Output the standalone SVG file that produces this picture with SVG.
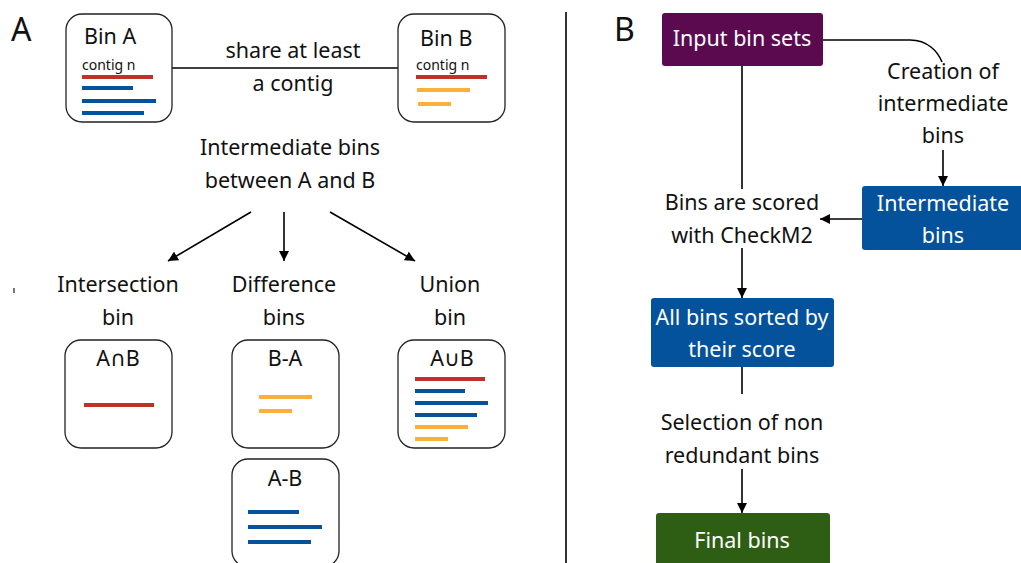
<svg xmlns="http://www.w3.org/2000/svg" width="1021" height="563" viewBox="0 0 1021 563">
<defs>
<marker id="ah" viewBox="0 0 10 10" refX="10" refY="5" markerWidth="10" markerHeight="10" markerUnits="userSpaceOnUse" orient="auto">
<path d="M0,0 L10,5 L0,10 z" fill="#000"/>
</marker>
<style>
text{font-family:"Noto Sans","Open Sans","DejaVu Sans",sans-serif;fill:#111;}
.t{font-size:21.5px;text-anchor:middle;}
.w{fill:#fff;}
.small{font-size:14px;}
.bin{fill:#fff;stroke:#222;stroke-width:1.3;}
.r{stroke:#c1312a;stroke-width:4;}
.b{stroke:#03529b;stroke-width:4;}
.o{stroke:#fbb03b;stroke-width:4;}
.c{fill:none;stroke:#000;stroke-width:1.6;}
</style>
</defs>
<rect width="1021" height="563" fill="#fff"/>
<text x="11" y="41" style="font-size:32px">A</text>
<text x="614" y="41" style="font-size:32px">B</text>
<rect x="13" y="288" width="2" height="5" fill="#777"/>
<line x1="566" y1="12" x2="566" y2="563" stroke="#000" stroke-width="1.6"/>

<g id="connectors">
<line class="c" x1="172" y1="68" x2="398" y2="68"/>
<line class="c" x1="251" y1="212" x2="168" y2="261" marker-end="url(#ah)"/>
<line class="c" x1="284" y1="212" x2="284" y2="261" marker-end="url(#ah)"/>
<line class="c" x1="330" y1="212" x2="415" y2="261" marker-end="url(#ah)"/>
<path class="c" d="M823,40 H910 C928,40 938,52 942,62"/>
<line class="c" x1="943" y1="150" x2="943" y2="186" marker-end="url(#ah)"/>
<line class="c" x1="862" y1="219" x2="820" y2="219" marker-end="url(#ah)"/>
<line class="c" x1="742" y1="66" x2="742" y2="189"/>
<line class="c" x1="742" y1="248" x2="742" y2="298" marker-end="url(#ah)"/>
<line class="c" x1="742" y1="367" x2="742" y2="394"/>
<line class="c" x1="742" y1="469" x2="742" y2="513" marker-end="url(#ah)"/>
</g>

<g id="labels">
<text class="t" x="293" y="58">share at least</text>
<text class="t" x="293" y="91">a contig</text>
<text class="t" x="290" y="155">Intermediate bins</text>
<text class="t" x="290" y="188">between A and B</text>
<text class="t" x="118" y="292">Intersection</text>
<text class="t" x="118" y="325">bin</text>
<text class="t" x="284" y="292">Difference</text>
<text class="t" x="284" y="325">bins</text>
<text class="t" x="450" y="292">Union</text>
<text class="t" x="450" y="325">bin</text>
<text class="t" x="943" y="79">Creation of</text>
<text class="t" x="943" y="111">intermediate</text>
<text class="t" x="943" y="143">bins</text>
<text class="t" x="742" y="210">Bins are scored</text>
<text class="t" x="742" y="243">with CheckM2</text>
<text class="t" x="742" y="430">Selection of non</text>
<text class="t" x="742" y="463">redundant bins</text>
</g>

<g id="binA">
<rect class="bin" x="66" y="14" width="106" height="108" rx="16"/>
<text x="84" y="44" style="font-size:21.5px">Bin A</text>
<text class="small" x="82" y="70">contig n</text>
<line class="r" x1="82" y1="77" x2="153" y2="77"/>
<line class="b" x1="82" y1="88" x2="133" y2="88"/>
<line class="b" x1="82" y1="101" x2="156" y2="101"/>
<line class="b" x1="82" y1="113" x2="144" y2="113"/>
</g>

<g id="binB">
<rect class="bin" x="398" y="14" width="107" height="108" rx="16"/>
<text x="420" y="46" style="font-size:21.5px">Bin B</text>
<text class="small" x="416" y="70">contig n</text>
<line class="r" x1="416" y1="77" x2="487" y2="77"/>
<line class="o" x1="417" y1="90" x2="470" y2="90"/>
<line class="o" x1="418" y1="104" x2="451" y2="104"/>
</g>

<g id="intersection">
<rect class="bin" x="65" y="340" width="107" height="108" rx="16"/>
<text class="t" x="118" y="366">A∩B</text>
<line class="r" x1="84" y1="405" x2="154" y2="405"/>
</g>

<g id="diffBA">
<rect class="bin" x="232" y="340" width="107" height="108" rx="16"/>
<text class="t" x="285" y="366">B-A</text>
<line class="o" x1="259" y1="397" x2="312" y2="397"/>
<line class="o" x1="259" y1="411" x2="292" y2="411"/>
</g>

<g id="diffAB">
<rect class="bin" x="232" y="459" width="107" height="108" rx="16"/>
<text class="t" x="285" y="486">A-B</text>
<line class="b" x1="248" y1="512" x2="299" y2="512"/>
<line class="b" x1="248" y1="527" x2="322" y2="527"/>
<line class="b" x1="248" y1="542" x2="311" y2="542"/>
</g>

<g id="union">
<rect class="bin" x="398" y="340" width="107" height="108" rx="16"/>
<text class="t" x="452" y="366">A∪B</text>
<line class="r" x1="415" y1="379" x2="485" y2="379"/>
<line class="b" x1="415" y1="391" x2="465" y2="391"/>
<line class="b" x1="415" y1="403" x2="488" y2="403"/>
<line class="b" x1="415" y1="415" x2="477" y2="415"/>
<line class="o" x1="415" y1="427" x2="468" y2="427"/>
<line class="o" x1="415" y1="439" x2="448" y2="439"/>
</g>

<g id="input">
<rect x="662" y="13" width="161" height="53" rx="3" fill="#5b0a4f"/>
<text class="t w" x="742" y="46">Input bin sets</text>
</g>

<g id="intermediate">
<rect x="862" y="186" width="162" height="64" rx="3" fill="#03529b"/>
<text class="t w" x="943" y="211">Intermediate</text>
<text class="t w" x="943" y="243">bins</text>
</g>

<g id="sorted">
<rect x="651" y="298" width="183" height="69" rx="3" fill="#03529b"/>
<text class="t w" x="742" y="325">All bins sorted by</text>
<text class="t w" x="742" y="357">their score</text>
</g>

<g id="final">
<rect x="656" y="513" width="174" height="56" rx="3" fill="#2d5e13"/>
<text class="t w" x="742" y="548">Final bins</text>
</g>
</svg>
